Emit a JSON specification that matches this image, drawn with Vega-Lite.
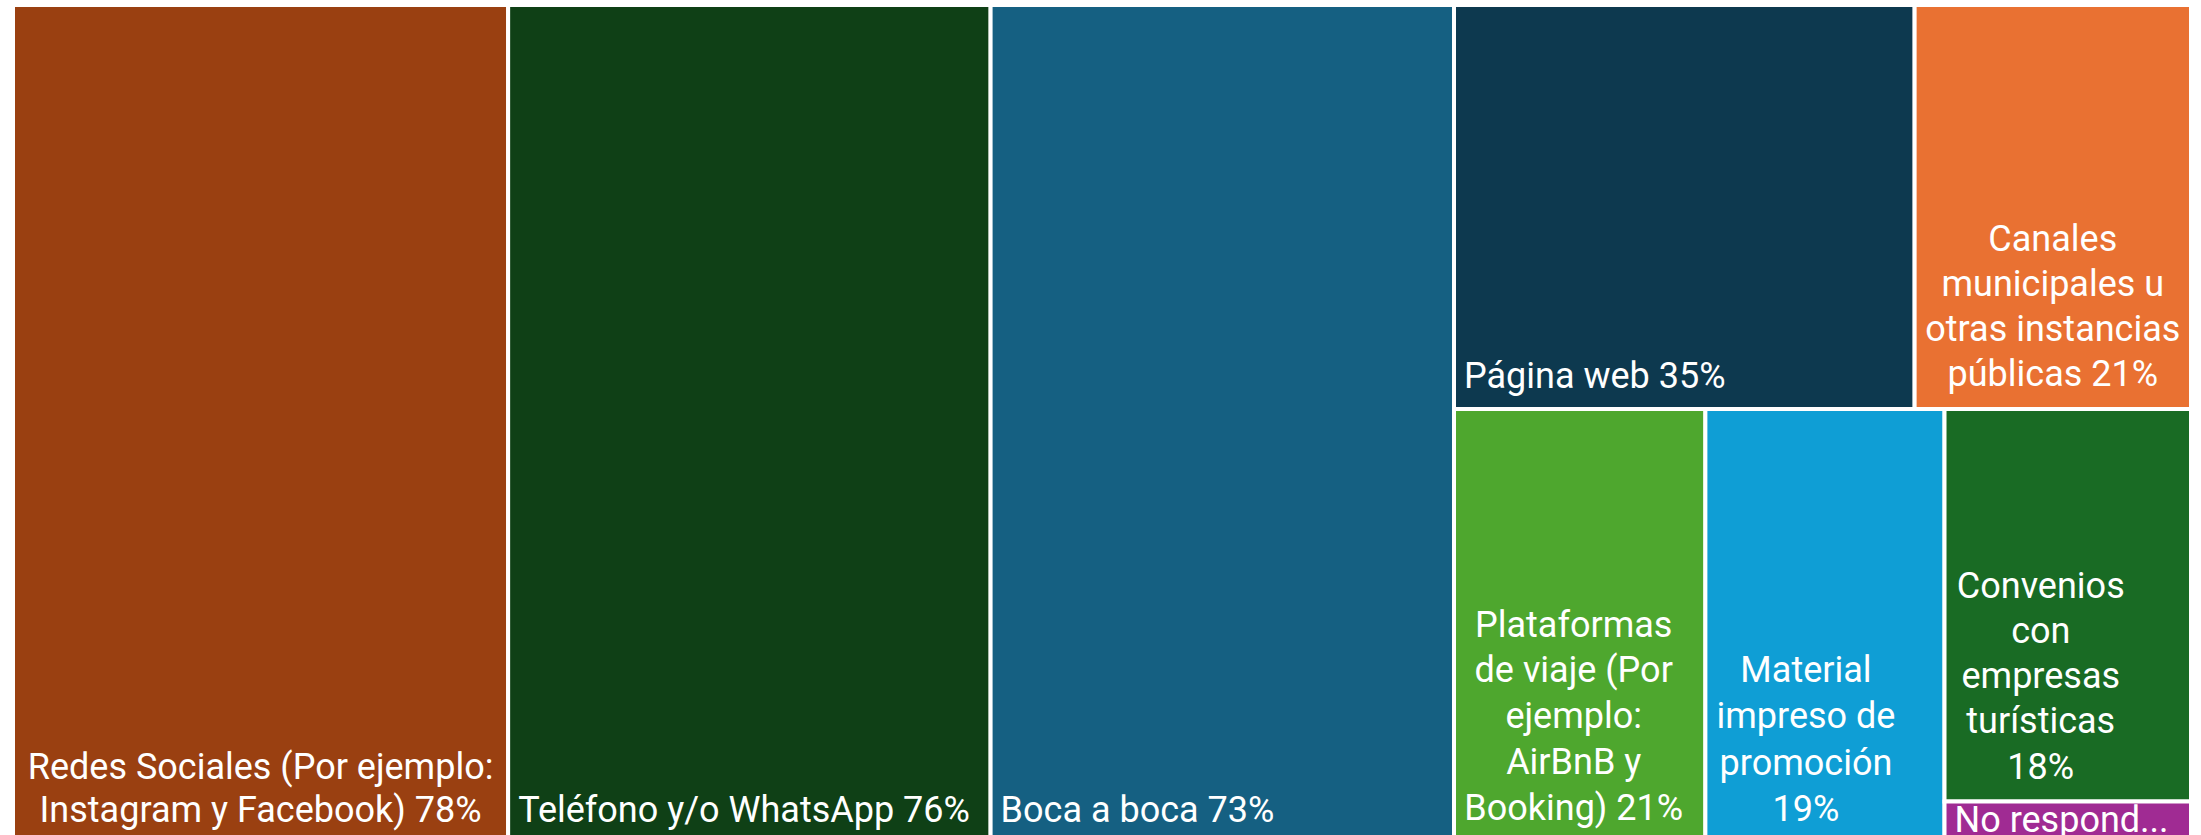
{
  "$schema": "https://vega.github.io/schema/vega-lite/v6.json",
  "width": 2201,
  "height": 835,
  "autosize": {"type": "fit", "contains": "padding"},
  "padding": {"left": 13, "right": 10, "top": 5, "bottom": 0},
  "background": "white",
  "config": {"view": {"stroke": null}},
  "data": {
    "values": [
      {"ord": 1, "name": "Redes Sociales", "label": "Redes Sociales (Por ejemplo:\nInstagram y Facebook) 78%", "value": 78, "g1": "Redes", "g2": "Redes", "g3": "Redes"},
      {"ord": 2, "name": "Teléfono", "label": "Teléfono y/o WhatsApp 76%", "value": 76, "g1": "Telefono", "g2": "Telefono", "g3": "Telefono"},
      {"ord": 3, "name": "Boca a boca", "label": "Boca a boca 73%", "value": 73, "g1": "Boca", "g2": "Boca", "g3": "Boca"},
      {"ord": 4, "name": "Página web", "label": "Página web 35%", "value": 35, "g1": "Resto", "g2": "Arriba", "g3": "Pagina"},
      {"ord": 5, "name": "Canales municipales", "label": "Canales\nmunicipales u\notras instancias\npúblicas 21%", "value": 21, "g1": "Resto", "g2": "Arriba", "g3": "Canales"},
      {"ord": 6, "name": "Plataformas de viaje", "label": "Plataformas\nde viaje (Por\nejemplo:\nAirBnB y\nBooking) 21%", "value": 20.5, "g1": "Resto", "g2": "Abajo", "g3": "Plataformas"},
      {"ord": 7, "name": "Material impreso", "label": "Material\nimpreso de\npromoción\n19%", "value": 19.5, "g1": "Resto", "g2": "Abajo", "g3": "Material"},
      {"ord": 8, "name": "Convenios", "label": "Convenios\ncon\nempresas\nturísticas\n18%", "value": 18.2, "g1": "Resto", "g2": "Abajo", "g3": "Columna"},
      {"ord": 9, "name": "No responde", "label": "No respond...", "value": 1.9, "g1": "Resto", "g2": "Abajo", "g3": "Columna"}
    ]
  },
  "transform": [
    {"window": [{"op": "sum", "field": "value", "as": "cumIncl"}], "sort": [{"field": "ord"}], "frame": [null, 0]},
    {"calculate": "datum.cumIncl - datum.value", "as": "c"},
    {"joinaggregate": [{"op": "sum", "field": "value", "as": "T"}]},
    {"joinaggregate": [{"op": "min", "field": "c", "as": "m1"}, {"op": "sum", "field": "value", "as": "s1"}], "groupby": ["g1"]},
    {"joinaggregate": [{"op": "min", "field": "c", "as": "m2"}, {"op": "sum", "field": "value", "as": "s2"}], "groupby": ["g1", "g2"]},
    {"joinaggregate": [{"op": "min", "field": "c", "as": "m3"}, {"op": "sum", "field": "value", "as": "s3"}], "groupby": ["g1", "g2", "g3"]},
    {"calculate": "datum.m1 / datum.T", "as": "X1a"},
    {"calculate": "(datum.m1 + datum.s1) / datum.T", "as": "X1b"},
    {"calculate": "(datum.m2 - datum.m1) / datum.s1", "as": "Y2a"},
    {"calculate": "(datum.m2 - datum.m1 + datum.s2) / datum.s1", "as": "Y2b"},
    {"calculate": "datum.X1a + (datum.m3 - datum.m2) / datum.s2 * (datum.X1b - datum.X1a)", "as": "X3a"},
    {"calculate": "datum.X1a + (datum.m3 - datum.m2 + datum.s3) / datum.s2 * (datum.X1b - datum.X1a)", "as": "X3b"},
    {"calculate": "datum.Y2a + (datum.c - datum.m3) / datum.s3 * (datum.Y2b - datum.Y2a)", "as": "Y4a"},
    {"calculate": "datum.Y2a + (datum.c - datum.m3 + datum.value) / datum.s3 * (datum.Y2b - datum.Y2a)", "as": "Y4b"},
    {"calculate": "(datum.X3a + datum.X3b) / 2", "as": "xc"}
  ],
  "layer": [
    {
      "mark": {"type": "rect", "stroke": "white", "strokeWidth": 4, "clip": true},
      "encoding": {
        "x": {"field": "X3a", "type": "quantitative", "scale": {"domain": [0, 1], "nice": false, "zero": false}, "axis": null},
        "x2": {"field": "X3b"},
        "y": {"field": "Y4a", "type": "quantitative", "scale": {"domain": [0, 0.991], "nice": false, "zero": false, "reverse": true}, "axis": null},
        "y2": {"field": "Y4b"},
        "color": {
          "field": "name", "type": "nominal", "legend": null,
          "scale": {
            "domain": ["Redes Sociales", "Teléfono", "Boca a boca", "Página web", "Canales municipales", "Plataformas de viaje", "Material impreso", "Convenios", "No responde"],
            "range": ["#9A4011", "#0F4016", "#156082", "#0D394F", "#E97132", "#4EA72E", "#0F9ED5", "#196B24", "#A02B93"]
          }
        }
      }
    },
    {
      "transform": [{"filter": {"field": "g3", "oneOf": ["Telefono", "Boca", "Pagina"]}}],
      "mark": {"type": "text", "align": "left", "baseline": "bottom", "dx": 10, "dy": -13, "font": "Roboto", "fontSize": 36, "color": "white", "clip": true},
      "encoding": {
        "x": {"field": "X3a", "type": "quantitative", "scale": {"domain": [0, 1], "nice": false, "zero": false}, "axis": null},
        "y": {"field": "Y4b", "type": "quantitative", "scale": {"domain": [0, 0.991], "nice": false, "zero": false, "reverse": true}, "axis": null},
        "text": {"field": "label"}
      }
    },
    {
      "transform": [{"filter": {"field": "name", "oneOf": ["No responde"]}}],
      "mark": {"type": "text", "align": "left", "baseline": "top", "dx": 10, "dy": 2, "font": "Roboto", "fontSize": 36, "color": "white", "clip": true},
      "encoding": {
        "x": {"field": "X3a", "type": "quantitative", "scale": {"domain": [0, 1], "nice": false, "zero": false}, "axis": null},
        "y": {"field": "Y4a", "type": "quantitative", "scale": {"domain": [0, 0.991], "nice": false, "zero": false, "reverse": true}, "axis": null},
        "text": {"field": "label"}
      }
    },
    {
      "transform": [{"filter": {"field": "g3", "oneOf": ["Redes"]}}],
      "mark": {"type": "text", "align": "center", "baseline": "bottom", "dx": 0, "dy": -56, "lineBreak": "\n", "lineHeight": 43, "font": "Roboto", "fontSize": 36, "color": "white", "clip": true},
      "encoding": {
        "x": {"field": "xc", "type": "quantitative", "scale": {"domain": [0, 1], "nice": false, "zero": false}, "axis": null},
        "y": {"field": "Y4b", "type": "quantitative", "scale": {"domain": [0, 0.991], "nice": false, "zero": false, "reverse": true}, "axis": null},
        "text": {"field": "label"}
      }
    },
    {
      "transform": [{"filter": {"field": "g3", "oneOf": ["Canales"]}}],
      "mark": {"type": "text", "align": "center", "baseline": "bottom", "dx": 0, "dy": -150, "lineBreak": "\n", "lineHeight": 45, "font": "Roboto", "fontSize": 36, "color": "white", "clip": true},
      "encoding": {
        "x": {"field": "xc", "type": "quantitative", "scale": {"domain": [0, 1], "nice": false, "zero": false}, "axis": null},
        "y": {"field": "Y4b", "type": "quantitative", "scale": {"domain": [0, 0.991], "nice": false, "zero": false, "reverse": true}, "axis": null},
        "text": {"field": "label"}
      }
    },
    {
      "transform": [{"filter": {"field": "g3", "oneOf": ["Plataformas"]}}],
      "mark": {"type": "text", "align": "center", "baseline": "bottom", "dx": -6, "dy": -198, "lineBreak": "\n", "lineHeight": 45.75, "font": "Roboto", "fontSize": 36, "color": "white", "clip": true},
      "encoding": {
        "x": {"field": "xc", "type": "quantitative", "scale": {"domain": [0, 1], "nice": false, "zero": false}, "axis": null},
        "y": {"field": "Y4b", "type": "quantitative", "scale": {"domain": [0, 0.991], "nice": false, "zero": false, "reverse": true}, "axis": null},
        "text": {"field": "label"}
      }
    },
    {
      "transform": [{"filter": {"field": "g3", "oneOf": ["Material"]}}],
      "mark": {"type": "text", "align": "center", "baseline": "bottom", "dx": -19, "dy": -153, "lineBreak": "\n", "lineHeight": 46.5, "font": "Roboto", "fontSize": 36, "color": "white", "clip": true},
      "encoding": {
        "x": {"field": "xc", "type": "quantitative", "scale": {"domain": [0, 1], "nice": false, "zero": false}, "axis": null},
        "y": {"field": "Y4b", "type": "quantitative", "scale": {"domain": [0, 0.991], "nice": false, "zero": false, "reverse": true}, "axis": null},
        "text": {"field": "label"}
      }
    },
    {
      "transform": [{"filter": {"field": "name", "oneOf": ["Convenios"]}}],
      "mark": {"type": "text", "align": "center", "baseline": "bottom", "dx": -27, "dy": -196, "lineBreak": "\n", "lineHeight": 45.3, "font": "Roboto", "fontSize": 36, "color": "white", "clip": true},
      "encoding": {
        "x": {"field": "xc", "type": "quantitative", "scale": {"domain": [0, 1], "nice": false, "zero": false}, "axis": null},
        "y": {"field": "Y4b", "type": "quantitative", "scale": {"domain": [0, 0.991], "nice": false, "zero": false, "reverse": true}, "axis": null},
        "text": {"field": "label"}
      }
    }
  ]
}
